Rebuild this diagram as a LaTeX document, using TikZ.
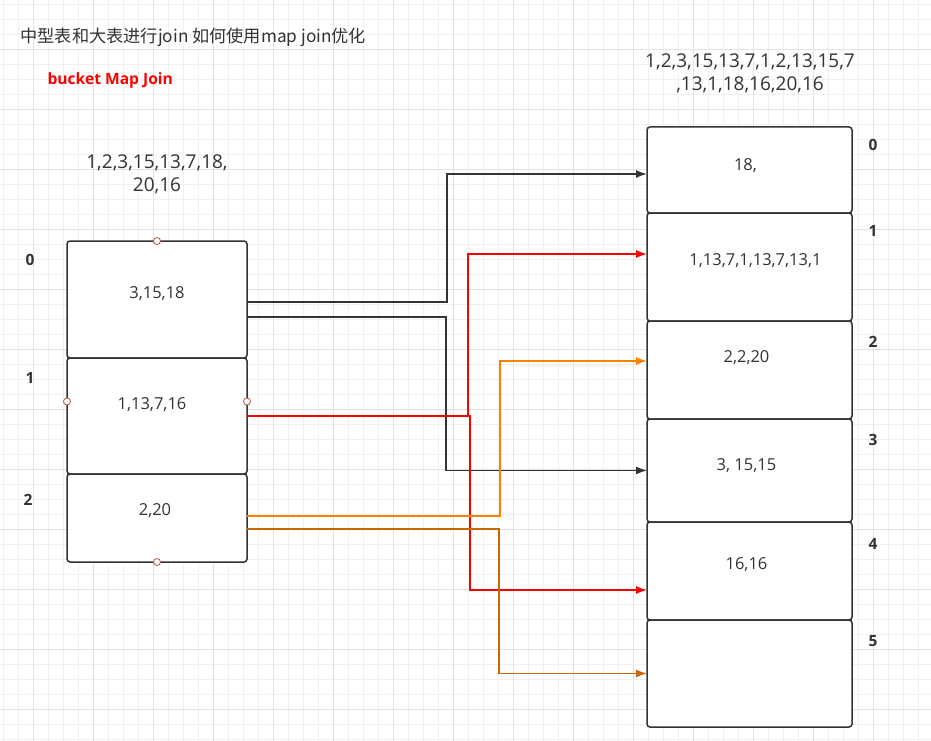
\documentclass[tikz,border=0pt]{standalone}
\usepackage{fontspec}
\setmainfont{Open Sans}
\newfontfamily\cjk{Noto Sans CJK SC}
\usetikzlibrary{arrows.meta, positioning}
\definecolor{ink}{HTML}{333333}
\definecolor{gridminor}{HTML}{F0F0F0}
\definecolor{gridmajor}{HTML}{E2E2E2}
\definecolor{hred}{HTML}{FF0000}
\definecolor{horange}{HTML}{FF8000}
\definecolor{hbrown}{HTML}{CC6600}
\definecolor{handlecol}{HTML}{B85450}

\begin{document}
\begin{tikzpicture}[x=1pt, y=-1pt, >={Latex[length=11pt,width=8pt]},
  bucket/.style={draw=ink, line width=1.5pt, rounded corners=3pt, fill=white,
    outer sep=0pt, inner sep=0pt},
  val/.style={text=ink, font=\fontsize{16.5}{23}\selectfont, align=center},
  keys/.style={text=ink, font=\fontsize{19}{23}\selectfont, align=center},
  idx/.style={text=ink, font=\fontsize{15.5}{18}\bfseries\selectfont},
  handle/.style={circle, draw=handlecol, fill=white, line width=0.8pt,
    minimum size=7pt, inner sep=0pt},
  wire/.style={line width=1.5pt, ->}]
  \useasboundingbox (0,0) rectangle (931,741);
  \fill[white] (0,0) rectangle (931,741);

  % background grid
  \foreach \i in {0,...,61}
    \draw[gridminor, line width=0.8pt] ({3+15*\i},0) -- ({3+15*\i},741);
  \foreach \i in {0,...,49}
    \draw[gridminor, line width=0.8pt] (0,{4+15*\i}) -- (931,{4+15*\i});
  \foreach \i in {0,...,14}
    \draw[gridmajor, line width=0.8pt] ({33+60*\i},0) -- ({33+60*\i},741);
  \foreach \i in {0,...,11}
    \draw[gridmajor, line width=0.8pt] (0,{49+60*\i}) -- (931,{49+60*\i});

  % titles
  \node[anchor=west, text=ink, font=\cjk\fontsize{17.2}{20}\selectfont] (title)
    at (17,37) {中型表和大表进行join 如何使用map join优化};
  \node[anchor=west, text=hred, font=\fontsize{15.6}{18}\bfseries\selectfont] (subtitle)
    at (44,80) {bucket Map Join};

  % medium table buckets
  \node[bucket, minimum width=180pt, minimum height=117pt] (s0) at (157,299.5) {};
  \node[bucket, minimum width=180pt, minimum height=116pt, below=0pt of s0] (s1) {};
  \node[bucket, minimum width=180pt, minimum height=88pt, below=0pt of s1] (s2) {};
  \node[val] (ts0) at ([yshift=5.5pt]s0.center) {3,15,18};
  \node[val] (ts1) at ([xshift=-5pt, yshift=11pt]s1.center) {1,13,7,16};
  \node[val] (ts2) at ([xshift=-2pt, yshift=7pt]s2.center) {2,20};
  \node[keys] (small) at (157,174) {1,2,3,15,13,7,18,\\20,16};

  \node[idx] (l0) at (30,260) {0};
  \node[idx] (l1) at (30,378) {1};
  \node[idx] (l2) at (28,500) {2};

  % big table buckets
  \node[bucket, minimum width=205pt, minimum height=86pt] (b0) at (749.5,170) {};
  \node[bucket, minimum width=205pt, minimum height=108pt, below=0pt of b0] (b1) {};
  \node[bucket, minimum width=205pt, minimum height=98pt, below=0pt of b1] (b2) {};
  \node[bucket, minimum width=205pt, minimum height=103pt, below=0pt of b2] (b3) {};
  \node[bucket, minimum width=205pt, minimum height=98pt, below=0pt of b3] (b4) {};
  \node[bucket, minimum width=205pt, minimum height=107pt, below=0pt of b4] (b5) {};
  \node[val] (tb0) at ([xshift=-4pt, yshift=4pt]b0.center) {18,};
  \node[val] (tb1) at ([xshift=6pt, yshift=6pt]b1.center) {1,13,7,1,13,7,13,1};
  \node[val] (tb2) at ([xshift=-3pt, yshift=12pt]b2.center) {2,2,20};
  \node[val] (tb3) at ([xshift=-3pt, yshift=4.5pt]b3.center) {3, 15,15};
  \node[val] (tb4) at ([xshift=-3pt, yshift=6pt]b4.center) {16,16};
  \node[keys] (big) at (750,73) {1,2,3,15,13,7,1,2,13,15,7\\,13,1,18,16,20,16};

  \foreach \n/\y in {0/145,1/231,2/342,3/440,4/544,5/641}
    \node[idx] (r\n) at (873,\y) {\n};

  % hash routing
  \draw[wire, ink] ([yshift=-2.5pt]s0.east) -- ++(200,0) |- ([yshift=-4pt]b0.west);
  \draw[wire, ink] ([yshift=-17.5pt]s0.east) -- ++(199,0) |- (b3.west);
  \draw[wire, hred] (s1.east) -- ++(221,0) |- ([yshift=13pt]b1.west);
  \draw[wire, hred] (s1.east) -- ++(223,0) |- ([yshift=-19pt]b4.west);
  \draw[wire, horange] ([yshift=2pt]s2.east) -- ++(253,0) |- ([yshift=9pt]b2.west);
  \draw[wire, hbrown] ([yshift=-11pt]s2.east) -- ++(252,0) |- (b5.west);

  % group handles
  \node[handle] (hn) at (s0.north) {};
  \node[handle] (hs) at (s2.south) {};
  \node[handle] (hw) at (67,401.5) {};
  \node[handle] (he) at (247,401.5) {};
\end{tikzpicture}
\end{document}
